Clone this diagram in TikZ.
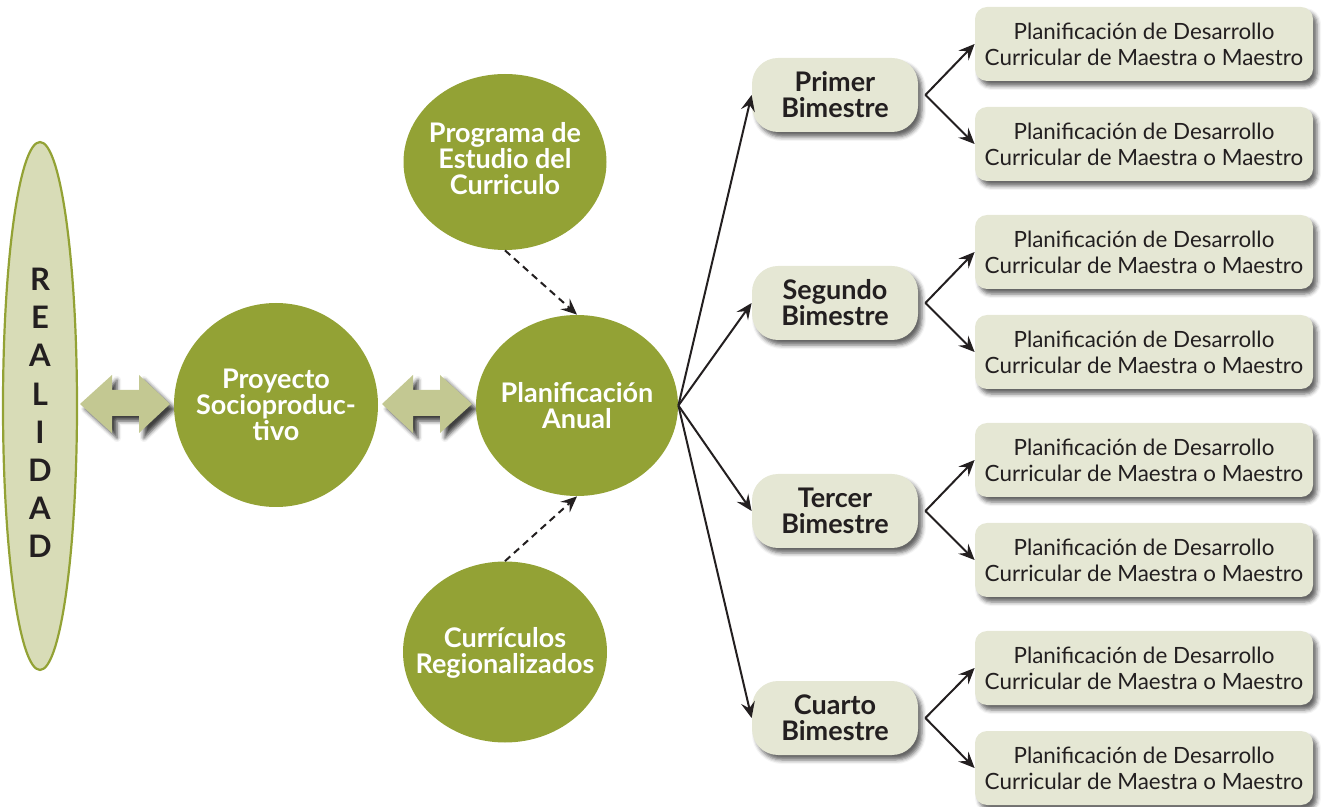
\documentclass[tikz,border=0pt]{standalone}
\usepackage{fontspec}
\setmainfont{Lato}
\usetikzlibrary{shapes.geometric,arrows.meta,shadows.blur,calc}
\definecolor{olive}{HTML}{93A235}
\definecolor{realfill}{HTML}{D8DCB7}
\definecolor{arrfill}{HTML}{C3C892}
\definecolor{boxfill}{HTML}{E5E7D4}
\definecolor{inkdark}{HTML}{231F20}
\tikzset{
  oval/.style={ellipse, fill=olive, draw=none, inner sep=0pt},
  wtext/.style={text=white, font=\fontsize{13.5}{13}\selectfont\bfseries, align=center, inner sep=0pt},
  bim/.style={rectangle, rounded corners=13pt, fill=boxfill, minimum width=83pt, minimum height=37pt, inner sep=0pt,
     text=inkdark, font=\fontsize{13.5}{13}\selectfont\bfseries, align=center,
     blur shadow={shadow xshift=2pt, shadow yshift=-2.5pt, shadow opacity=60, shadow blur radius=2pt}},
  plan/.style={rectangle, rounded corners=6pt, fill=boxfill, minimum width=169pt, minimum height=37pt, inner sep=0pt,
     text=inkdark, font=\fontsize{11.2}{13}\selectfont, align=center,
     blur shadow={shadow xshift=2pt, shadow yshift=-2.5pt, shadow opacity=60, shadow blur radius=2pt}},
  dblarrow/.style={fill=arrfill, draw=none,
     blur shadow={shadow xshift=2.5pt, shadow yshift=-2.5pt, shadow opacity=75, shadow blur radius=2pt}},
  conn/.style={draw=inkdark, line width=1pt, -{Stealth[length=8pt,width=7pt,inset=3pt]}},
  dconn/.style={conn, dash pattern=on 3.5pt off 2.5pt}
}
\begin{document}
\begin{tikzpicture}[x=0.5pt,y=-0.5pt]
\useasboundingbox (0,0) rectangle (1329,807);
% Realidad
\node[ellipse, fill=realfill, draw=olive, line width=1.1pt, minimum width=37pt, minimum height=264pt, inner sep=0pt] (real) at (40,406) {};
\node[text=inkdark, font=\fontsize{15.5}{19.1}\selectfont\bfseries, align=center, inner sep=0pt] (realtxt) at (40,413) {R\\E\\A\\L\\I\\D\\A\\D};
% double arrows
\path[dblarrow] (80,404) -- (112,375) -- (112,390) -- (139,390) -- (139,375) -- (170,404) -- (139,433) -- (139,416) -- (112,416) -- (112,433) -- cycle;
\path[dblarrow] (382,404) -- (413,375) -- (413,390) -- (440,390) -- (440,375) -- (472,404) -- (440,433) -- (440,416) -- (413,416) -- (413,433) -- cycle;
% ovals
\node[oval, minimum width=102pt, minimum height=102pt] (ps) at (276,405) {};
\node[wtext] (pstxt) at (ps) {Proyecto\\Socioproduc-\\tivo};
\node[oval, minimum width=101pt, minimum height=90.5pt] (pa) at (577,405.5) {};
\node[wtext] (patxt) at (pa) {Planificación\\Anual};
\node[oval, minimum width=101.5pt, minimum height=88pt] (prog) at (505,162) {};
\node[wtext] (progtxt) at (505,159) {Programa de\\Estudio del\\Curriculo};
\node[oval, minimum width=102pt, minimum height=90.5pt] (cur) at (505,652) {};
\node[wtext] (curtxt) at (505,653) {Currículos\\Regionalizados};
% dashed
\draw[dconn] (prog.south) -- (pa.north);
\draw[dconn] (cur.north) -- (pa.south);
% bimestres
\node[bim] (b1) at (835,95) {Primer\\Bimestre};
\node[bim] (b2) at (835,303) {Segundo\\Bimestre};
\node[bim] (b3) at (835,511) {Tercer\\Bimestre};
\node[bim] (b4) at (835,718) {Cuarto\\Bimestre};
\foreach \b in {b1,b2,b3,b4} \draw[conn] (pa.east) -- (\b.west);
% plan boxes
\foreach \i/\y in {1/44,2/144,3/252,4/352,5/460,6/560,7/668,8/768}
  \node[plan] (p\i) at (1144,\y) {Planificación de Desarrollo\\Curricular de Maestra o Maestro};
\foreach \b/\u/\l in {b1/p1/p2,b2/p3/p4,b3/p5/p6,b4/p7/p8}{
  \coordinate (f\b) at ($(\b.east)+(7,0)$);
  \draw[conn] (f\b) -- (\u.west);
  \draw[conn] (f\b) -- (\l.west);
}
\end{tikzpicture}
\end{document}
